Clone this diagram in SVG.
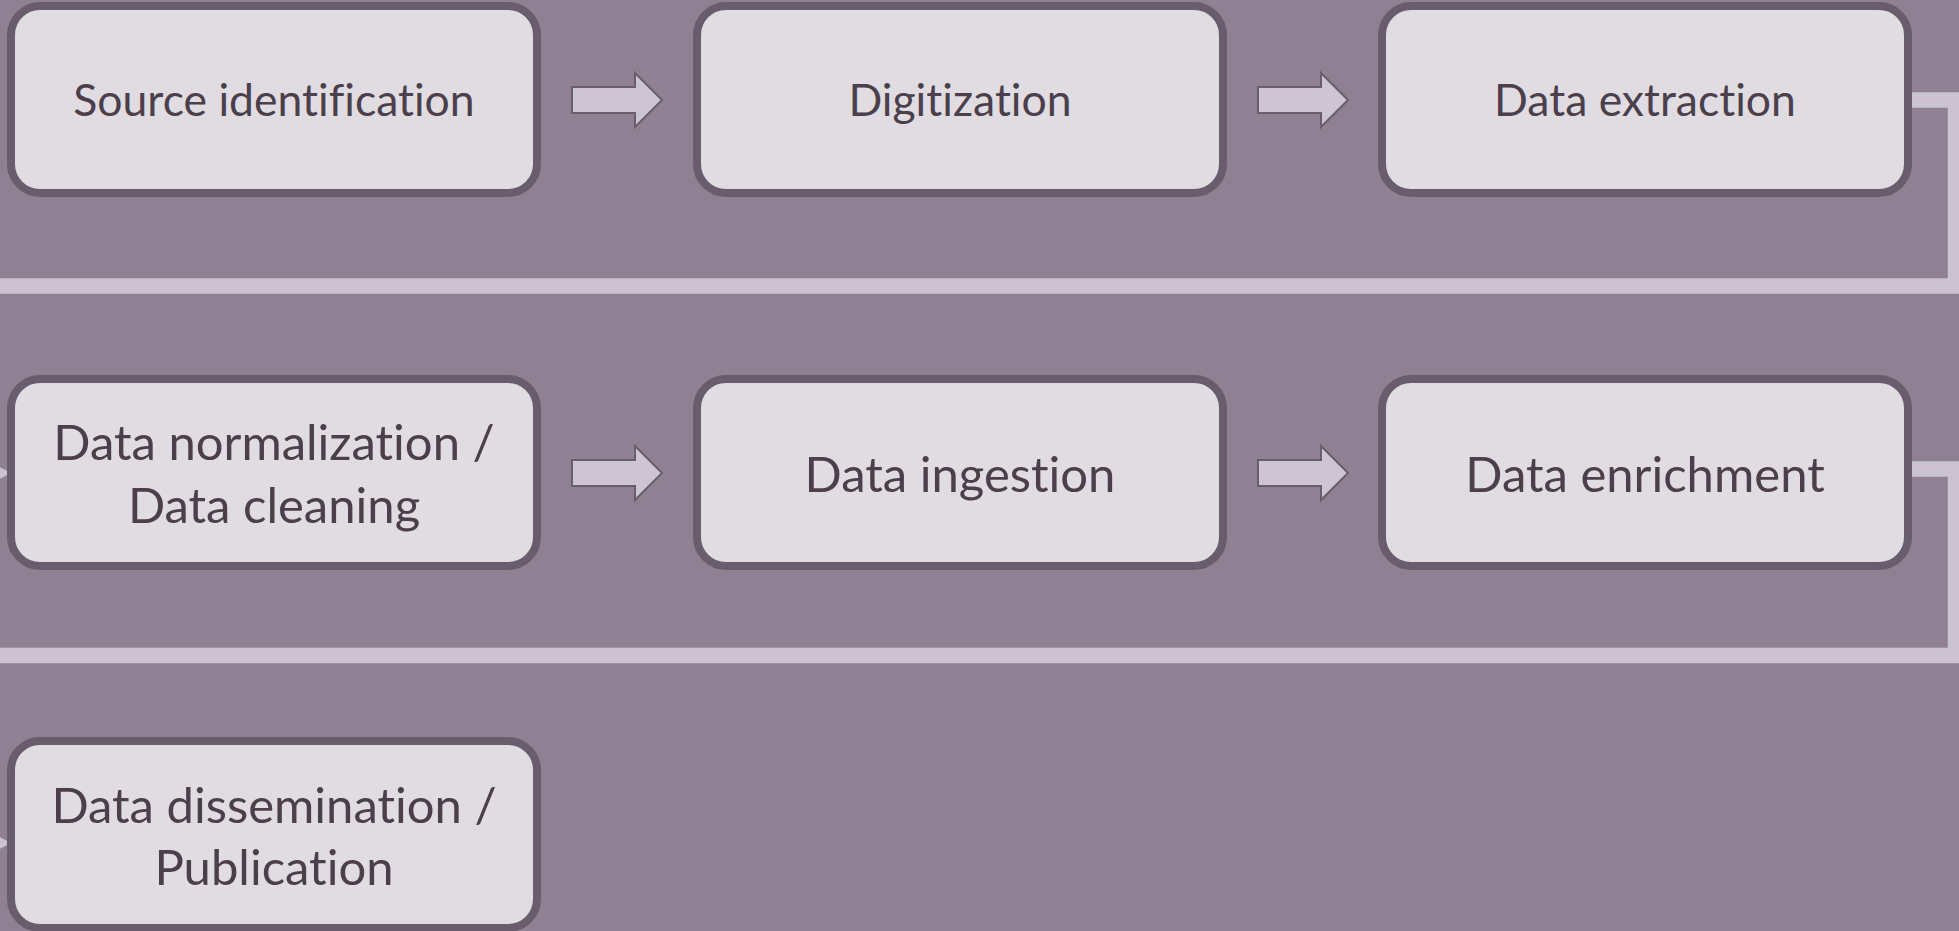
<svg xmlns="http://www.w3.org/2000/svg" width="1959" height="931" viewBox="0 0 1959 931">
  <style>
    .box { fill: #e0dce2; stroke: #695d6d; stroke-width: 8; }
    .lbl { font-family: Lato, "Open Sans", "Liberation Sans", sans-serif; fill: #4a3f4b; text-anchor: middle; font-variant-ligatures: none; font-feature-settings: "liga" 0; }
    .s1 { font-size: 44.5px; }
    .s2 { font-size: 49px; }
    .blk { fill: #cdc6d2; stroke: #6a5d6e; stroke-width: 2; }
    .conn { fill: none; stroke: #cbc4d0; stroke-width: 15.5; }
    .head { fill: #cbc4d0; }
  </style>
  <defs>
    <polygon id="blockArrow" points="0,-13 63,-13 63,-27 90,0 63,27 63,13 0,13"/>
  </defs>
  <rect x="0" y="0" width="1959" height="931" fill="#8f8193"/>

  <g id="connectors">
    <path class="conn" d="M1900,100 H1955.5 V286 H-30"/>
    <path class="conn" d="M1900,469 H1955.5 V655.5 H-30"/>
    <polygon class="head" points="-4,465 11,473 -4,481"/>
    <polygon class="head" points="-4,835 11,843 -4,851"/>
    <use href="#blockArrow" class="blk" x="572" y="100"/>
    <use href="#blockArrow" class="blk" x="1258" y="100"/>
    <use href="#blockArrow" class="blk" x="572" y="473"/>
    <use href="#blockArrow" class="blk" x="1258" y="473"/>
  </g>

  <g id="node-source">
    <rect class="box" x="11" y="6" width="526" height="187" rx="29"/>
    <text class="lbl s1" x="274" y="116">Source identification</text>
  </g>
  <g id="node-digitization">
    <rect class="box" x="697" y="6" width="526" height="187" rx="29"/>
    <text class="lbl s1" x="960" y="116">Digitization</text>
  </g>
  <g id="node-extraction">
    <rect class="box" x="1382" y="6" width="526" height="187" rx="29"/>
    <text class="lbl s1" x="1645" y="116">Data extraction</text>
  </g>
  <g id="node-normalization">
    <rect class="box" x="11" y="379" width="526" height="187" rx="29"/>
    <text class="lbl s2" x="274" y="460">Data normalization /</text>
    <text class="lbl s2" x="274" y="523">Data cleaning</text>
  </g>
  <g id="node-ingestion">
    <rect class="box" x="697" y="379" width="526" height="187" rx="29"/>
    <text class="lbl s2" x="960" y="492">Data ingestion</text>
  </g>
  <g id="node-enrichment">
    <rect class="box" x="1382" y="379" width="526" height="187" rx="29"/>
    <text class="lbl s2" x="1645" y="492">Data enrichment</text>
  </g>
  <g id="node-dissemination">
    <rect class="box" x="11" y="741" width="526" height="187" rx="29"/>
    <text class="lbl s2" x="274" y="823">Data dissemination /</text>
    <text class="lbl s2" x="274" y="885">Publication</text>
  </g>
</svg>
